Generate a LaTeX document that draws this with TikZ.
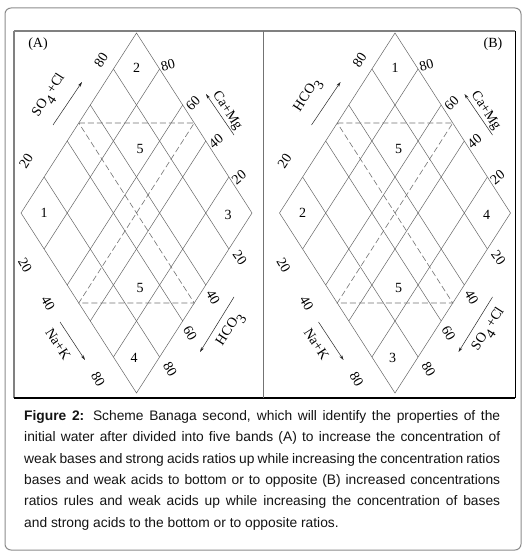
\documentclass[tikz,border=0pt]{standalone}
\usepackage{fontspec}
\setmainfont{Liberation Serif}
\newfontfamily\capfont{Liberation Sans}
\usetikzlibrary{calc,arrows.meta}

\tikzset{
  gridline/.style={draw=black!60, line width=0.5pt},
  bandline/.style={draw=black!55, line width=0.6pt, dash pattern=on 6pt off 3pt},
  lab/.style={font=\fontsize{14}{14}\selectfont, inner sep=0pt, text=black},
  dirarrow/.style={draw=black!85, line width=0.5pt, -{Stealth[length=5pt,width=3pt]}},
  capline/.style={font=\capfont\fontsize{13.8}{16}\selectfont, anchor=base west, inner sep=0pt, text=black!92},
}

\newcommand{\SOCl}{SO\raisebox{-0.9ex}{4}\,+Cl}
\newcommand{\HCOt}{HCO\raisebox{-0.9ex}{3}}

% #1 prefix, #2 upper-left text, #3 lower-right text, #4 top, #5 left, #6 right, #7 bottom
\newcommand{\panel}[7]{%
  \coordinate (#1T) at (136.5,33);
  \coordinate (#1L) at (21,213);
  \coordinate (#1R) at (252,213);
  \coordinate (#1B) at (136.5,393);
  \draw[gridline] (#1T) -- (#1L) -- (#1B) -- (#1R) -- cycle;
  \foreach \k in {1,2,3,4}{
    \draw[gridline] ($(#1T)!\k/5!(#1L)$) -- ($(#1R)!\k/5!(#1B)$);
    \draw[gridline] ($(#1T)!\k/5!(#1R)$) -- ($(#1L)!\k/5!(#1B)$);
  }
  \coordinate (#1m1) at ($(#1T)!0.5!(#1L)$);
  \coordinate (#1m2) at ($(#1T)!0.5!(#1R)$);
  \coordinate (#1m3) at ($(#1L)!0.5!(#1B)$);
  \coordinate (#1m4) at ($(#1R)!0.5!(#1B)$);
  \draw[bandline] (#1m1) -- (#1m2) -- (#1m3) -- (#1m4) -- cycle;
  % band numbers
  \node[lab] (#1top) at (136.5,68) {#4};
  \node[lab] (#1left) at (44,213) {#5};
  \node[lab] (#1right) at (228,215) {#6};
  \node[lab] (#1bot) at (134,358) {#7};
  \node[lab] (#1five1) at (140,149) {5};
  \node[lab] (#1five2) at (140,288) {5};
  % upper-left side
  \node[lab, rotate=57] (#1ul80) at (101,60) {80};
  \node[lab, rotate=57] (#1ul20) at (26,161) {20};
  % upper-right side
  \node[lab, rotate=15] (#1ur80) at (168,65) {80};
  \node[lab, rotate=45] (#1ur60) at (193,103) {60};
  \node[lab, rotate=40] (#1ur40) at (216,141) {40};
  \node[lab, rotate=40] (#1ur20) at (239,177) {20};
  % lower-left side
  \node[lab, rotate=-60] (#1ll20) at (25,265) {20};
  \node[lab, rotate=-60] (#1ll40) at (48,303) {40};
  \node[lab, rotate=-60] (#1ll80) at (98,379) {80};
  % lower-right side
  \node[lab, rotate=-55] (#1lr20) at (240,258) {20};
  \node[lab, rotate=-60] (#1lr40) at (213,297) {40};
  \node[lab, rotate=-60] (#1lr60) at (190,333) {60};
  \node[lab, rotate=-60] (#1lr80) at (170,369) {80};
  % axis names
  \node[lab, rotate=57] (#1ulname) at (50,96) {#2};
  \node[lab, rotate=-57] (#1urname) at (227,111) {Ca+Mg};
  \node[lab, rotate=-57] (#1llname) at (58,344) {Na+K};
  \node[lab, rotate=57] (#1lrname) at (231,330) {#3};
  % direction arrows
  \coordinate (#1ula) at (53,125);  \coordinate (#1ulb) at (82,82);
  \coordinate (#1ura) at (234,135); \coordinate (#1urb) at (206,94);
  \coordinate (#1lla) at (60,322);  \coordinate (#1llb) at (85,360);
  \coordinate (#1lra) at (234,297); \coordinate (#1lrb) at (200,352);
  \draw[dirarrow] (#1ula) -- (#1ulb);
  \draw[dirarrow] (#1ura) -- (#1urb);
  \draw[dirarrow] (#1lla) -- (#1llb);
  \draw[dirarrow] (#1lra) -- (#1lrb);
}

\begin{document}
\begin{tikzpicture}[x=1pt,y=-1pt]
  \useasboundingbox (0,0) rectangle (528,556);
  \fill[white] (0,0) rectangle (528,556);
  % outer rounded frame
  \draw[black!45, line width=1pt, rounded corners=6pt] (5,8) rectangle (521,550);
  % inner frame
  \coordinate (ftl) at (14,31);
  \coordinate (ftr) at (515,31);
  \coordinate (fbl) at (14,398);
  \coordinate (fbr) at (515,398);
  \coordinate (dvt) at (263,31);
  \coordinate (dvb) at (263,398);
  \draw[black!50, line width=1.4pt] (ftl) -- (ftr);
  \draw[black!50, line width=1.8pt] (ftl) -- (fbl);
  \draw[black, line width=1pt] (ftr) -- (fbr);
  \draw[black, line width=2pt] (fbl) -- (fbr);
  \draw[black!55, line width=0.8pt] (dvt) -- (dvb);

  % panel A
  \panel{a}{\SOCl}{\HCOt}{2}{1}{3}{4}
  \node[lab] (labA) at (38,44) {(A)};
  % panel B
  \begin{scope}[shift={(258.5,0)}]
    \panel{b}{\HCOt}{\SOCl}{1}{2}{4}{3}
  \end{scope}
  \node[lab] (labB) at (493,44) {(B)};

  % caption
  \node[capline] (c1) at (24,420.2) {\makebox[476pt][s]{\textbf{Figure 2:} Scheme Banaga second, which will identify the properties of the}};
  \node[capline] (c2) at (24,441.6) {\makebox[476pt][s]{initial water after divided into five bands (A) to increase the concentration of}};
  \node[capline] (c3) at (24,463.0) {\makebox[476pt][s]{weak bases and strong acids ratios up while increasing the concentration ratios}};
  \node[capline] (c4) at (24,484.4) {\makebox[476pt][s]{bases and weak acids to bottom or to opposite (B) increased concentrations}};
  \node[capline] (c5) at (24,505.8) {\makebox[476pt][s]{ratios rules and weak acids up while increasing the concentration of bases}};
  \node[capline] (c6) at (24,527.2) {and strong acids to the bottom or to opposite ratios.};
\end{tikzpicture}
\end{document}
